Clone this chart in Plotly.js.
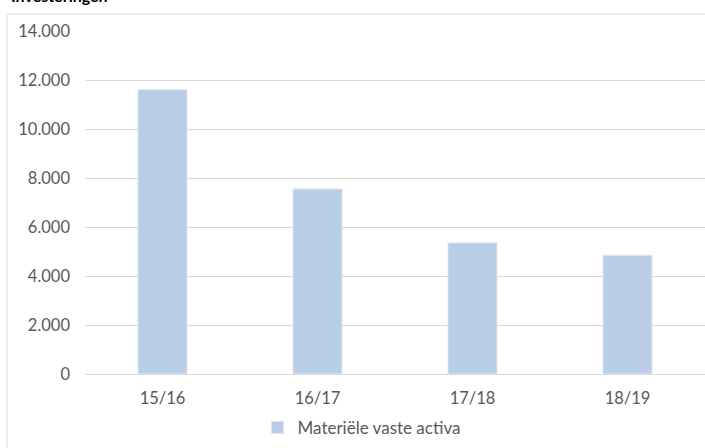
<!DOCTYPE html>
<html>
<head>
<meta charset="utf-8">
<script src="https://cdn.plot.ly/plotly-3.0.1.min.js"></script>
<style>html,body{margin:0;padding:0;background:#fff;}#chart{width:705px;height:448px;}</style>
</head>
<body>
<div id="chart"></div>
<script>
const categories = ['15/16', '16/17', '17/18', '18/19'];
const materieleVasteActiva = [11600, 7550, 5350, 4850];
const yTickVals = [0, 2000, 4000, 6000, 8000, 10000, 12000, 14000];
const yTickText = ['0', '2.000', '4.000', '6.000', '8.000', '10.000', '12.000', '14.000'];

const trace = {
  type: 'bar',
  x: categories,
  y: materieleVasteActiva,
  name: 'Materiële vaste activa',
  marker: {color: '#b9cde5', line: {color: '#dce6f2', width: 1}},
  hoverinfo: 'x+y'
};

const layout = {
  width: 705, height: 448,
  margin: {l: 85, r: 0, t: 31, b: 74, pad: 0},
  paper_bgcolor: '#ffffff', plot_bgcolor: '#ffffff',
  font: {family: 'Lato, "Open Sans", sans-serif', size: 16.5, color: '#595959'},
  bargap: 0.684,
  showlegend: true,
  legend: {orientation: 'h', x: 0.446, xanchor: 'center', y: -0.157, yanchor: 'middle',
           font: {size: 17, color: '#595959'}, itemwidth: 30},
  xaxis: {type: 'category', showgrid: false, ticks: '', showline: true, linecolor: '#d9d9d9', linewidth: 1,
          zeroline: false, tickfont: {size: 16.5, color: '#595959'}, ticklabelstandoff: 9},
  yaxis: {range: [0, 14000], tickvals: yTickVals, ticktext: yTickText, showgrid: true, gridcolor: '#d9d9d9',
          gridwidth: 1, zeroline: false, showline: false, ticks: '', tickfont: {size: 16.5, color: '#595959'},
          ticklabelstandoff: 14},
  shapes: [
    {type: 'line', xref: 'paper', yref: 'paper', x0: (7-85)/620, x1: (7-85)/620, y0: (374-14)/343, y1: (374-448)/343,
     line: {color: '#d9d9d9', width: 1}},
    {type: 'line', xref: 'paper', yref: 'paper', x0: (7-85)/620, x1: 1.01, y0: (374-14)/343, y1: (374-14)/343,
     line: {color: '#d9d9d9', width: 1}}
  ],
  annotations: [
    {text: '<b>Investeringen</b>', xref: 'paper', yref: 'paper', x: (9-85)/620, xanchor: 'left',
     y: (374-7)/343, yanchor: 'bottom', showarrow: false, font: {size: 16, color: '#000000'}}
  ]
};

Plotly.newPlot('chart', [trace], layout, {displayModeBar: false, staticPlot: true});
</script>
</body>
</html>
